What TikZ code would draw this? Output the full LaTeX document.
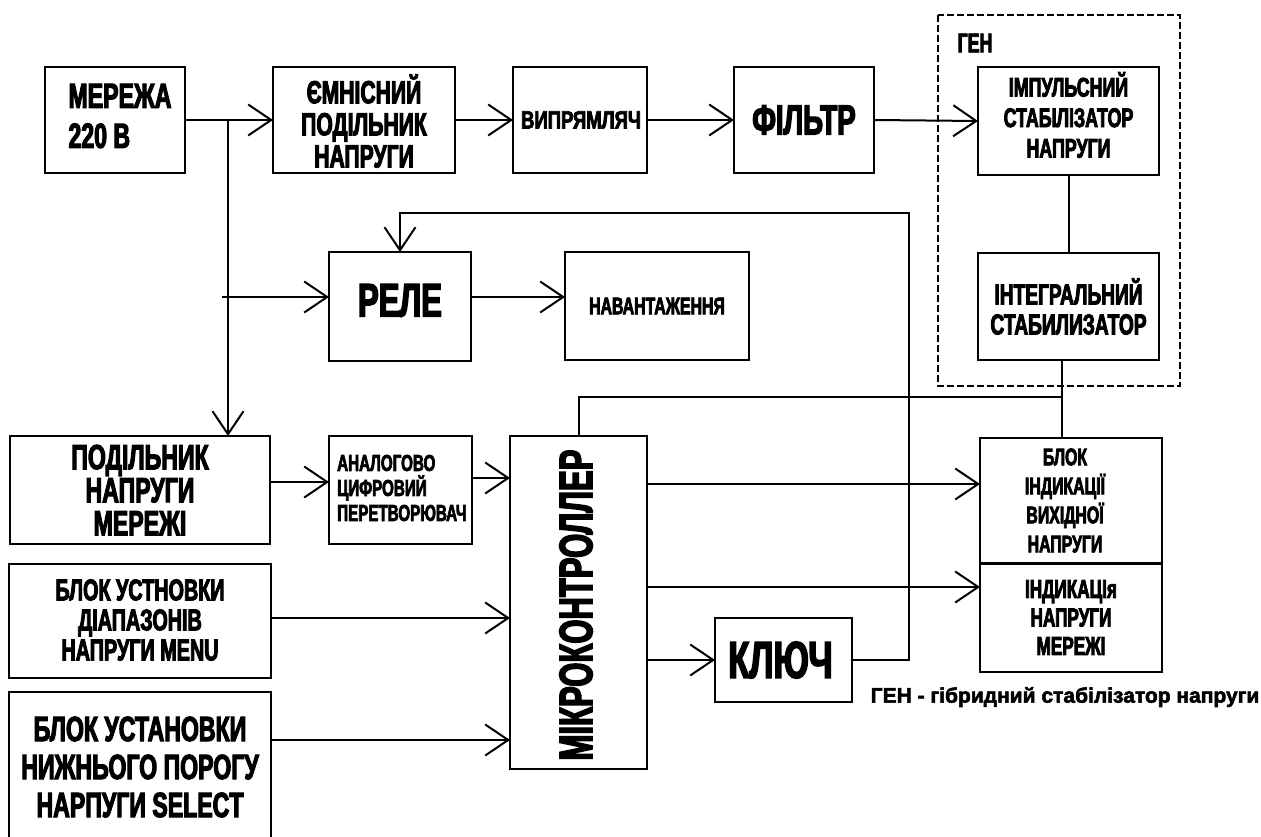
\documentclass[tikz,border=0pt]{standalone}
\usepackage{fontspec}
\newfontfamily\imp{Liberation Sans}[FakeStretch=0.66, BoldFeatures={FakeBold=3}]
\newfontfamily\impm{Liberation Sans}[FakeStretch=0.74, BoldFeatures={FakeBold=3}]
\newfontfamily\impw{Liberation Sans}[FakeStretch=1.0, BoldFeatures={FakeBold=2.5}]
\usetikzlibrary{arrows.meta}
\newcommand\fz[2]{\imp\bfseries\fontsize{#1}{#2}\selectfont}
\newcommand\fm[2]{\impm\bfseries\fontsize{#1}{#2}\selectfont}
\newcommand\fw[2]{\impw\bfseries\fontsize{#1}{#2}\selectfont}
\begin{document}
\begin{tikzpicture}[x=1pt,y=-1pt,
  box/.style={draw, line width=2pt, inner sep=0pt, outer sep=0pt},
  txt/.style={inner sep=0pt, align=center},
  conn/.style={line width=2pt},
  arr/.style={line width=2pt, -{Straight Barb[length=23pt,width=31pt]}},
  genbox/.style={line width=2pt, dash pattern=on 7pt off 3pt}]
\clip (0,0) rectangle (1261,837);
\fill[white] (0,0) rectangle (1261,837);

% boxes
\node[box, minimum width=140pt, minimum height=106pt] (mer) at (115,120) {};
\node[box, minimum width=182pt, minimum height=106pt] (emn) at (364,120) {};
\node[box, minimum width=134pt, minimum height=106pt] (vyp) at (580,120) {};
\node[box, minimum width=140pt, minimum height=106pt] (fil) at (804,120) {};
\draw[genbox] (938,15) rectangle (1180,386);
\node[box, minimum width=181pt, minimum height=108pt] (imp) at (1068.5,121) {};
\node[box, minimum width=181pt, minimum height=107pt] (int) at (1068.5,306.5) {};
\node[box, minimum width=142pt, minimum height=109pt] (rele) at (400,306.5) {};
\node[box, minimum width=184pt, minimum height=108pt] (nav) at (657,306) {};
\node[box, minimum width=260pt, minimum height=108pt] (pod) at (140,490) {};
\node[box, minimum width=143pt, minimum height=108pt] (adc) at (400.5,490) {};
\node[box, minimum width=137pt, minimum height=333pt] (mcu) at (578.5,602.5) {};
\node[box, minimum width=137pt, minimum height=84pt] (kl) at (783.5,660) {};
\node[box, minimum width=182pt, minimum height=125pt] (ind1) at (1071,500.5) {};
\node[box, minimum width=182pt, minimum height=109pt] (ind2) at (1071,617.5) {};
\draw[line width=3pt] (ind1.south west) -- (ind1.south east);
\node[box, minimum width=262pt, minimum height=114pt] (ust) at (140,621) {};
\node[box, minimum width=262pt, minimum height=160pt] (niz) at (140,772) {};

% texts
\node[txt, align=left, font=\fz{35}{40}] at ([xshift=5pt,yshift=4pt]mer.center) {МЕРЕЖА\\220 В};
\node[txt, font=\fz{32}{32}] at ([yshift=-1pt]emn.center) {ЄМНІСНИЙ\\ПОДІЛЬНИК\\НАПРУГИ};
\node[txt, font=\fm{25}{28}] at ([xshift=1pt]vyp.center) {ВИПРЯМЛЯЧ};
\node[txt, font=\fz{42}{42}] at (fil.center) {ФІЛЬТР};
\node[txt, font=\fz{27}{30}] at (975,43) {ГЕН};
\node[txt, font=\fz{27}{30.5}] at ([yshift=6pt]imp.center) {ІМПУЛЬСНИЙ\\СТАБІЛІЗАТОР\\НАПРУГИ};
\node[txt, font=\fz{29}{30}] at (int.center) {ІНТЕГРАЛЬНИЙ\\СТАБИЛИЗАТОР};
\node[txt, font=\fz{47}{45}] at ([yshift=6pt]rele.center) {РЕЛЕ};
\node[txt, font=\fz{24}{26}] at (nav.center) {НАВАНТАЖЕННЯ};
\node[txt, font=\fz{35}{33}] at (pod.center) {ПОДІЛЬНИК\\НАПРУГИ\\МЕРЕЖІ};
\node[txt, align=left, font=\fz{23}{25}, anchor=west] at (337,488) {АНАЛОГОВО\\ЦИФРОВИЙ\\ПЕРЕТВОРЮВАЧ};
\node[txt, font=\fz{47}{45}, rotate=90] at (576,605) {МІКРОКОНТРОЛЛЕР};
\node[txt, font=\fz{52}{47}] at ([xshift=-3pt]kl.center) {КЛЮЧ};
\node[txt, font=\fz{24}{29}] at ([xshift=-6pt]ind1.center) {БЛОК\\ІНДИКАЦІЇ\\ВИХІДНОЇ\\НАПРУГИ};
\node[txt, font=\fz{26}{28.5}] at (ind2.center) {ІНДИКАЦІя\\НАПРУГИ\\МЕРЕЖІ};
\node[txt, font=\fz{30}{30}] at ([yshift=1pt]ust.center) {БЛОК УСТНОВКИ\\ДІАПАЗОНІВ\\НАПРУГИ MENU};
\node[txt, font=\fz{35}{38}] at (140,767) {БЛОК УСТАНОВКИ\\НИЖНЬОГО ПОРОГУ\\НАРПУГИ SELECT};
\node[txt, font=\fw{21}{22}] (leg) at (1065,697) {ГЕН - гібридний стабілізатор напруги};

% junctions
\coordinate (j1) at (228,120);
\coordinate (j2) at (228,297);
\coordinate (t) at (1062,397);
\coordinate (fb) at (909,213);

% connectors
\draw[arr] (mer.east) -- (emn.west);
\draw[arr] (emn.east) -- (vyp.west);
\draw[arr] (vyp.east) -- (fil.west);
\draw[arr] (fil.east) -- (imp.west);
\draw[arr] (j1) -- (j1 |- pod.north);
\draw[arr] ([xshift=-6pt]j2) -- (j2 -| rele.west);
\draw[arr] (rele.east |- j2) -- (nav.west |- j2);
\draw[conn] (imp.south) -- (int.north);
\draw[conn] (t |- int.south) -- (t |- ind1.north);
\draw[conn] (mcu.north) |- (t);
\draw[arr] (kl.east) -| (fb) -| (rele.north);
\draw[arr] (pod.east |- 0,482) -- (adc.west |- 0,482);
\draw[arr] (adc.east |- 0,478) -- (mcu.west |- 0,478);
\draw[arr] (mcu.east |- 0,484) -- (ind1.west |- 0,484);
\draw[arr] (mcu.east |- 0,587) -- (ind2.west |- 0,587);
\draw[arr] (mcu.east |- kl.west) -- (kl.west);
\draw[arr] (ust.east |- 0,618) -- (mcu.west |- 0,618);
\draw[arr] (niz.east |- 0,740) -- (mcu.west |- 0,740);
\end{tikzpicture}
\end{document}
